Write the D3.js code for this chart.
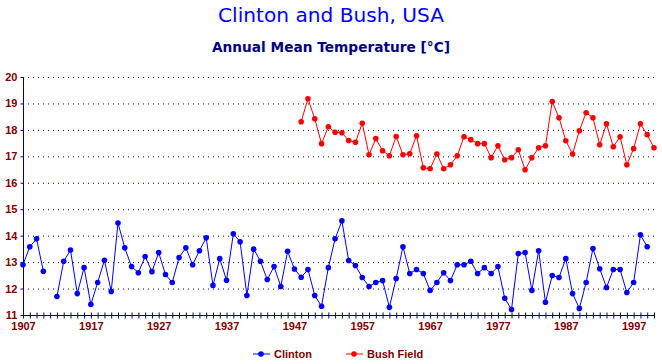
<!DOCTYPE html>
<html><head><meta charset="utf-8">
<script src="https://cdn.jsdelivr.net/npm/d3@7"></script>
<style>
html,body{margin:0;padding:0;background:#fff;}
svg{display:block;}
</style></head>
<body>
<script>
const clintonYears = d3.range(1907, 2000);
const clintonValues = [12.90,13.58,13.88,12.65,null,11.70,13.03,13.46,11.81,12.79,
11.40,12.23,13.07,11.89,14.48,13.54,12.83,12.60,13.21,12.64,
13.36,12.53,12.23,13.17,13.54,12.90,13.43,13.92,12.12,13.13,
12.31,14.07,13.77,11.74,13.49,13.03,12.34,12.83,12.08,13.41,
12.74,12.43,12.72,11.74,11.33,12.79,13.88,14.56,13.06,12.87,
12.42,12.08,12.23,12.30,11.29,12.38,13.58,12.57,12.72,12.57,
11.93,12.23,12.60,12.30,12.90,12.90,13.03,12.57,12.79,12.57,
12.83,11.63,11.21,13.32,13.36,11.93,13.43,11.48,12.49,12.42,
13.13,11.81,11.25,12.23,13.51,12.75,12.04,12.72,12.72,11.85,
12.23,14.03,13.58];
const bushYears = d3.range(1948, 2001);
const bushValues = [18.31,19.18,18.42,17.48,18.12,17.91,17.89,17.60,17.53,18.25,
17.06,17.67,17.21,17.02,17.75,17.06,17.10,17.78,16.57,16.53,
17.09,16.53,16.68,17.02,17.74,17.63,17.48,17.48,16.95,17.40,
16.87,16.95,17.25,16.49,16.95,17.32,17.40,19.07,18.46,17.59,
17.09,17.97,18.65,18.46,17.44,18.23,17.36,17.74,16.68,17.29,
18.23,17.82,17.32];
const yTicks = d3.range(11, 21);
const xTickYears = d3.range(1907, 2001);
const xLabelYears = [1907,1917,1927,1937,1947,1957,1967,1977,1987,1997];
const seriesNames = ["Clinton", "Bush Field"];
const seriesColors = ["#0000ff", "#ff0000"];

const W = 662, H = 364;
const svg = d3.select("body").append("svg").attr("width", W).attr("height", H);
svg.append("rect").attr("width", W).attr("height", H).attr("fill", "#fff");

const x = d3.scaleLinear().domain([1907, 2000]).range([23, 654]);
const y = d3.scaleLinear().domain([11, 20]).range([315, 77]);
const navy = "#000080", dred = "#800000";

// Titles
svg.append("text").attr("x", 331).attr("y", 22).attr("text-anchor", "middle")
  .attr("font-family", "'Comic Sans MS','DejaVu Sans',sans-serif").attr("font-size", 20)
  .attr("fill", "#0000ff").attr("textLength", 226).attr("lengthAdjust", "spacingAndGlyphs")
  .text("Clinton and Bush, USA");
svg.append("text").attr("x", 331).attr("y", 52).attr("text-anchor", "middle")
  .attr("font-family", "'Comic Sans MS','DejaVu Sans',sans-serif").attr("font-size", 14)
  .attr("font-weight", "bold")
  .attr("fill", navy).attr("textLength", 238).attr("lengthAdjust", "spacingAndGlyphs")
  .text("Annual Mean Temperature [°C]");

// Grid
svg.append("g").selectAll("line").data(yTicks.filter(d => d > 11)).join("line")
  .attr("x1", x(1907)).attr("x2", x(2000))
  .attr("y1", d => y(d) + 0.5).attr("y2", d => y(d) + 0.5)
  .attr("stroke", navy).attr("stroke-width", 1).attr("stroke-dasharray", "1,4");

// Y axis
const yAxis = svg.append("g").attr("transform", `translate(${x(1907)+0.5},0)`)
  .call(d3.axisLeft(y).tickValues(yTicks).tickSize(3).tickPadding(3).tickFormat(d3.format("d")));
yAxis.select(".domain").attr("stroke", navy).attr("d", `M0,${y(20)}V${y(11)}`);
yAxis.selectAll(".tick line").attr("stroke", navy);
yAxis.selectAll(".tick text").attr("fill", dred).attr("font-family", "'Liberation Sans',Arial,sans-serif")
  .attr("font-weight", "bold").attr("font-size", 11);

// X axis
const xAxis = svg.append("g").attr("transform", `translate(0,${y(11)+0.5})`)
  .call(d3.axisBottom(x).tickValues(xTickYears).tickSize(3).tickPadding(4)
    .tickFormat(d => xLabelYears.includes(d) ? String(d) : ""));
xAxis.select(".domain").attr("stroke", navy).attr("d", `M${x(1907)},0H${x(2000)}`);
xAxis.selectAll(".tick line").attr("stroke", navy).attr("y1", -3).attr("y2", 3);
xAxis.selectAll(".tick text").attr("fill", dred).attr("font-family", "'Liberation Sans',Arial,sans-serif")
  .attr("font-weight", "bold").attr("font-size", 11);

// Series
const series = [
  {years: clintonYears, values: clintonValues},
  {years: bushYears, values: bushValues}
];
series.forEach((s, i) => {
  const pts = s.years.map((yr, j) => ({yr, v: s.values[j]}));
  const line = d3.line().defined(d => d.v != null).x(d => x(d.yr)).y(d => y(d.v));
  svg.append("path").datum(pts).attr("d", line).attr("fill", "none")
    .attr("stroke", seriesColors[i]).attr("stroke-width", 1);
  svg.append("g").selectAll("circle").data(pts.filter(d => d.v != null)).join("circle")
    .attr("cx", d => x(d.yr)).attr("cy", d => y(d.v)).attr("r", 2.8)
    .attr("fill", seriesColors[i]);
});

// Legend
const legendX = [253, 346];
seriesNames.forEach((name, i) => {
  const g = svg.append("g").attr("transform", `translate(${legendX[i]},354)`);
  g.append("line").attr("x1", 0).attr("x2", 17).attr("y1", 0).attr("y2", 0)
    .attr("stroke", seriesColors[i]).attr("stroke-width", 1);
  g.append("circle").attr("cx", 8).attr("cy", 0).attr("r", 2.8).attr("fill", seriesColors[i]);
  g.append("text").attr("x", 21).attr("y", 4).attr("fill", dred)
    .attr("font-family", "'Liberation Sans',Arial,sans-serif").attr("font-weight", "bold")
    .attr("font-size", 11).text(name);
});
</script>
</body></html>
